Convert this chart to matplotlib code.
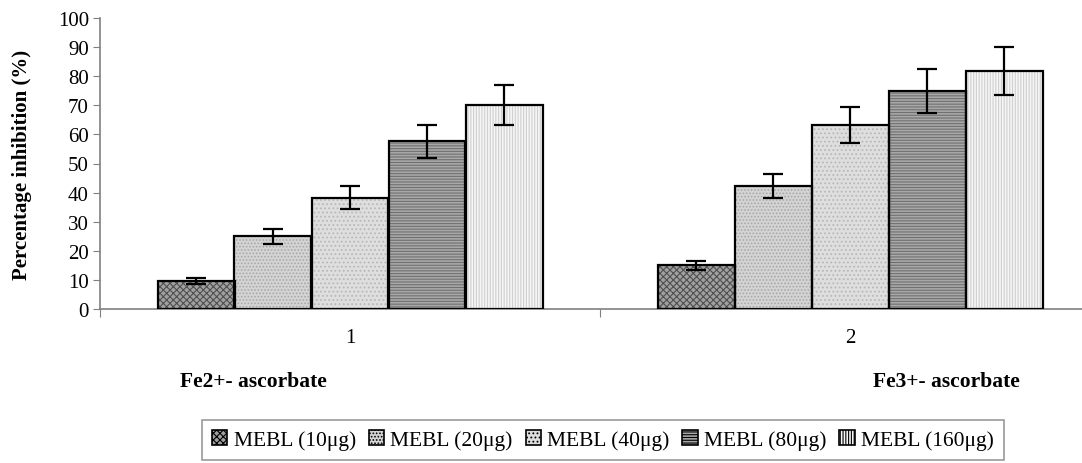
import matplotlib
matplotlib.use("Agg")
import matplotlib.pyplot as plt
import numpy as np
from matplotlib.ticker import FixedLocator
from matplotlib.patches import Patch

plt.rcParams['font.family'] = ['Liberation Serif', 'DejaVu Serif']
plt.rcParams['hatch.linewidth'] = 0.8

categories = ["1", "2"]
group_labels = ["Fe2+- ascorbate", "Fe3+- ascorbate"]
series = ["MEBL (10μg)", "MEBL (20μg)", "MEBL (40μg)", "MEBL (80μg)", "MEBL (160μg)"]
values = [
    [9.6, 15.0],
    [25.0, 42.2],
    [38.2, 63.2],
    [57.6, 75.0],
    [70.1, 81.8],
]
errors = [
    [1.0, 1.5],
    [2.6, 4.2],
    [3.9, 6.3],
    [5.6, 7.6],
    [7.0, 8.2],
]

faces = ['#a0a0a0', '#d4d4d4', '#dedede', '#a8a8a8', '#f6f6f6']
hatch_cols = ['#505050', '#a8a8a8', '#b8b8b8', '#707070', '#cfcfcf']
hatches = ['xxxxx', '.....', '....', '------', '||||||']

W, H = 1082, 464
fig = plt.figure(figsize=(W / 100, H / 100), dpi=100)
ax = fig.add_axes([100 / W, (H - 310) / H, 1000 / W, (310 - 19) / H])

x = np.arange(1, len(categories) + 1)
bw = 0.154
n = len(series)
for i in range(n):
    pos = x + (i - (n - 1) / 2) * bw
    ax.bar(pos, values[i], bw, color=faces[i], edgecolor=hatch_cols[i],
           hatch=hatches[i], linewidth=0, zorder=2)
    ax.bar(pos, values[i], bw, fill=False, edgecolor='black', linewidth=1.6,
           zorder=3)
    ax.errorbar(pos, values[i], yerr=errors[i], fmt='none', ecolor='black',
                elinewidth=1.6, capsize=7, capthick=1.6, zorder=4)

ax.set_xlim(0.5, 2.5)
ax.set_ylim(0, 100)
ax.set_yticks(np.arange(0, 101, 10))
ax.xaxis.set_major_locator(FixedLocator([0.5, 1.5, 2.5]))
ax.xaxis.set_minor_locator(FixedLocator(list(x)))
ax.set_xticklabels([])
ax.set_xticklabels(categories, minor=True)
ax.tick_params(axis='x', which='major', length=6, color='#808080', direction='out')
ax.tick_params(axis='x', which='minor', length=0, pad=14, labelsize=15)
ax.tick_params(axis='y', length=5, color='#808080', direction='out', labelsize=15, pad=3)

for s in ['top', 'right']:
    ax.spines[s].set_visible(False)
for s in ['left', 'bottom']:
    ax.spines[s].set_color('#808080')
    ax.spines[s].set_linewidth(1.2)

fig.text(22 / W, 1 - 165 / H, "Percentage inhibition (%)", rotation=90,
         ha='center', va='center', fontsize=15, fontweight='bold')
fig.text(180 / W, 1 - 382 / H, group_labels[0], ha='left', va='center',
         fontsize=15.5, fontweight='bold')
fig.text(1020 / W, 1 - 382 / H, group_labels[1], ha='right', va='center',
         fontsize=15.5, fontweight='bold')

handles = [Patch(facecolor=faces[i], edgecolor='black', hatch=hatches[i], linewidth=1.2)
           for i in range(n)]
leg = fig.legend(handles, series, loc='center', bbox_to_anchor=(603 / W, 1 - 441 / H),
                 ncol=5, frameon=True, fancybox=False, edgecolor='#808080',
                 fontsize=15.5, handlelength=0.7, handleheight=0.7, handletextpad=0.3,
                 columnspacing=0.6, borderpad=0.45, borderaxespad=0)
leg.get_frame().set_linewidth(1.2)

fig.savefig('out.png', dpi=100)
